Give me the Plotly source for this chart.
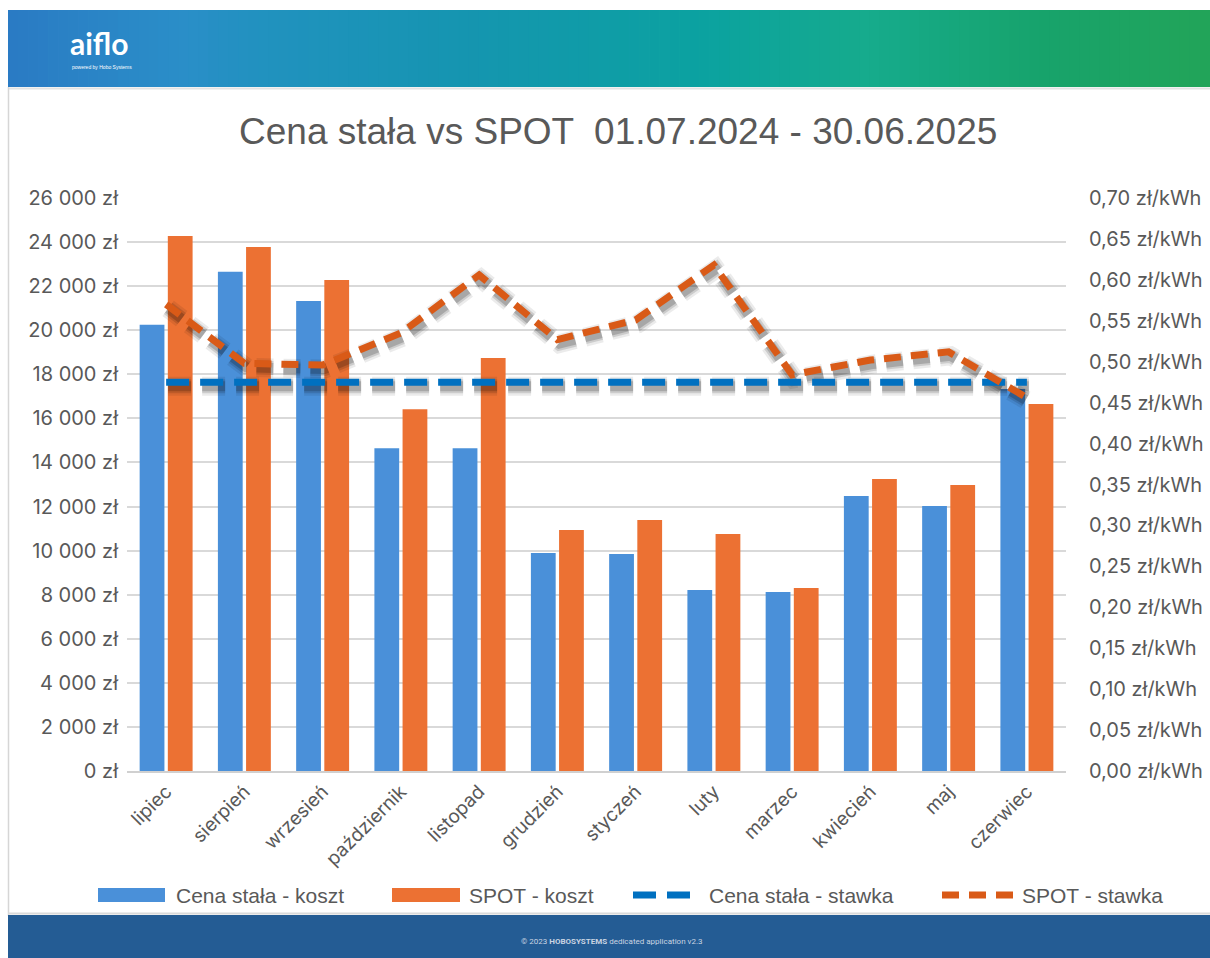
import plotly.graph_objects as go

# ---------------- data ----------------
months = ["lipiec", "sierpień", "wrzesień", "październik", "listopad", "grudzień",
          "styczeń", "luty", "marzec", "kwiecień", "maj", "czerwiec"]
fixed_cost = [20250, 22650, 21330, 14650, 14650, 9890, 9850, 8210, 8120, 12480, 12020, 17330]
spot_cost = [24280, 23780, 22280, 16420, 18740, 10930, 11390, 10750, 8300, 13250, 12980, 16650]
fixed_rate = [0.475] * 12
spot_rate = [0.570, 0.498, 0.496, 0.535, 0.606, 0.527, 0.551, 0.618, 0.484, 0.502, 0.512, 0.456]

title_text = "Cena stała vs SPOT  01.07.2024 - 30.06.2025"
legend_names = ["Cena stała - koszt", "SPOT - koszt", "Cena stała - stawka", "SPOT - stawka"]

# ---------------- layout constants ----------------
W, H = 1210, 958
ML, MR, MT, MB = 127, 144, 198, 187
PW, PH = W - ML - MR, H - MT - MB
FONT = "Liberation Sans, Arial, sans-serif"
TICKFONT = "Inter, Liberation Sans, Arial, sans-serif"
GREY = "#595959"
BLUE = "#4A90D9"
ORANGE = "#EC7133"
BLUE_LINE = "#0070C0"
ORANGE_LINE = "#D95A17"
Y2MAX = 0.70


def px_x(px):
    return (px - ML) / PW


def px_y(py):
    return (H - MB - py) / PH


x_idx = list(range(len(months)))

fig = go.Figure()

fig.add_trace(go.Bar(x=x_idx, y=fixed_cost, name=legend_names[0], marker_color=BLUE,
                     marker_line_width=0, showlegend=False))
fig.add_trace(go.Bar(x=x_idx, y=spot_cost, name=legend_names[1], marker_color=ORANGE,
                     marker_line_width=0, showlegend=False))

# shadows for lines (offset few px down/right)
dy = 4 * Y2MAX / PH
dx = 2 / (PW / len(months))
for rate, dash in ((fixed_rate, "23px,11px"), (spot_rate, "17px,10px")):
    for wdt, op in ((19, 0.08), (14, 0.13), (10, 0.18)):
        fig.add_trace(go.Scatter(
            x=[v + dx for v in x_idx], y=[r - dy for r in rate], yaxis="y2",
            mode="lines", line=dict(color=f"rgba(0,0,0,{op})", width=wdt, dash=dash),
            hoverinfo="skip", showlegend=False))

fig.add_trace(go.Scatter(x=x_idx, y=fixed_rate, yaxis="y2", name=legend_names[2],
                         mode="lines", line=dict(color=BLUE_LINE, width=7, dash="23px,11px"),
                         showlegend=False))
fig.add_trace(go.Scatter(x=x_idx, y=spot_rate, yaxis="y2", name=legend_names[3],
                         mode="lines", line=dict(color=ORANGE_LINE, width=7, dash="17px,10px"),
                         showlegend=False))

shapes = []
annotations = []

# header gradient
stops = [(0.0, (0x2A, 0x7B, 0xC4)), (0.14, (0x2A, 0x8E, 0xC8)), (0.22, (0x20, 0x92, 0xBE)),
         (0.38, (0x15, 0x95, 0xB0)), (0.58, (0x0B, 0xA2, 0xA0)), (0.72, (0x16, 0xAB, 0x8C)),
         (0.86, (0x17, 0xA3, 0x6C)), (1.0, (0x22, 0xA4, 0x59))]


def grad(t):
    for (t0, c0), (t1, c1) in zip(stops[:-1], stops[1:]):
        if t0 <= t <= t1:
            f = (t - t0) / (t1 - t0)
            return "rgb(%d,%d,%d)" % tuple(round(a + (b - a) * f) for a, b in zip(c0, c1))
    return "rgb(%d,%d,%d)" % stops[-1][1]


hx0, hx1, hy0, hy1 = 8, W, 10, 87
n = 120
for i in range(n):
    a = hx0 + (hx1 - hx0) * i / n
    b = hx0 + (hx1 - hx0) * (i + 1) / n + 0.8
    shapes.append(dict(type="rect", xref="paper", yref="paper",
                       x0=px_x(a), x1=px_x(b), y0=px_y(hy1), y1=px_y(hy0),
                       fillcolor=grad(i / (n - 1)), line_width=0, layer="below"))

# thin grey line below header, page border, footer
shapes.append(dict(type="line", xref="paper", yref="paper", x0=px_x(8), x1=px_x(W),
                   y0=px_y(88.5), y1=px_y(88.5), line=dict(color="#E3E3E3", width=2)))
shapes.append(dict(type="line", xref="paper", yref="paper", x0=px_x(8.5), x1=px_x(8.5),
                   y0=px_y(87), y1=px_y(916), line=dict(color="#D6D6D6", width=1.5)))
shapes.append(dict(type="line", xref="paper", yref="paper", x0=px_x(8), x1=px_x(W),
                   y0=px_y(913.5), y1=px_y(913.5), line=dict(color="#DADADA", width=2)))
shapes.append(dict(type="rect", xref="paper", yref="paper", x0=px_x(8), x1=px_x(W + 2),
                   y0=px_y(H + 2), y1=px_y(915), fillcolor="#245C94", line_width=0))

# logo
annotations.append(dict(text="<b>aiflo</b>", xref="paper", yref="paper", x=px_x(68), y=px_y(43),
                        xanchor="left", yanchor="middle", showarrow=False,
                        font=dict(family="Lato, " + FONT, size=30, color="white")))
annotations.append(dict(text="powered by Hobo Systems", xref="paper", yref="paper", x=px_x(70),
                        y=px_y(67), xanchor="left", yanchor="middle", showarrow=False,
                        font=dict(family=FONT, size=5, color="white")))

# footer text
annotations.append(dict(text="© 2023 <b>HOBOSYSTEMS</b> dedicated application v2.3",
                        xref="paper", yref="paper", x=px_x(612), y=px_y(941),
                        xanchor="center", yanchor="middle", showarrow=False,
                        font=dict(family="Roboto, " + FONT, size=8, color="#C9D4E2")))

# title
annotations.append(dict(text=title_text, xref="paper", yref="paper", x=px_x(618), y=px_y(131),
                        xanchor="center", yanchor="middle", showarrow=False,
                        font=dict(family=FONT, size=37, color=GREY)))

# custom legend
ly = 895
shapes.append(dict(type="rect", xref="paper", yref="paper", x0=px_x(98), x1=px_x(165),
                   y0=px_y(902), y1=px_y(888), fillcolor=BLUE, line_width=0))
shapes.append(dict(type="rect", xref="paper", yref="paper", x0=px_x(392), x1=px_x(460),
                   y0=px_y(902), y1=px_y(888), fillcolor=ORANGE, line_width=0))
shapes.append(dict(type="line", xref="paper", yref="paper", x0=px_x(633), x1=px_x(690),
                   y0=px_y(ly), y1=px_y(ly), line=dict(color=BLUE_LINE, width=7, dash="23px,11px")))
shapes.append(dict(type="line", xref="paper", yref="paper", x0=px_x(942), x1=px_x(1015),
                   y0=px_y(ly), y1=px_y(ly), line=dict(color=ORANGE_LINE, width=7, dash="17px,10px")))
for name, xp in zip(legend_names, (174, 467, 707, 1020)):
    annotations.append(dict(text=name, xref="paper", yref="paper", x=px_x(xp), y=px_y(ly),
                            xanchor="left", yanchor="middle", showarrow=False,
                            font=dict(family=FONT, size=21, color=GREY)))

fig.update_layout(
    width=W, height=H,
    margin=dict(l=ML, r=MR, t=MT, b=MB, pad=0, autoexpand=False),
    paper_bgcolor="white", plot_bgcolor="white",
    barmode="group", bargap=0.28, bargroupgap=0.12,
    separators=", ",
    font=dict(family=FONT, color=GREY, size=20),
    xaxis=dict(tickmode="array", tickvals=x_idx, ticktext=months, range=[-0.5, len(months) - 0.5],
               tickangle=-45, showgrid=False, showline=True, linecolor="#D0D0D0", linewidth=2,
               ticks="", tickfont=dict(family=TICKFONT, size=19, color=GREY), fixedrange=True,
               zeroline=False, automargin=False),
    yaxis=dict(range=[0, 26000], dtick=2000, tickformat=",.0f", ticksuffix=" zł",
               showgrid=True, gridcolor="#D9D9D9", gridwidth=1.5, zeroline=False,
               ticks="", ticklabelstandoff=8, tickfont=dict(family=TICKFONT, size=20, color=GREY),
               fixedrange=True, automargin=False),
    yaxis2=dict(range=[0, Y2MAX], dtick=0.05, tickformat=".2f", ticksuffix=" zł/kWh",
                overlaying="y", side="right", showgrid=False, zeroline=False,
                ticks="", ticklabelstandoff=22, tickfont=dict(family=TICKFONT, size=20, color=GREY),
                fixedrange=True, automargin=False),
    shapes=shapes, annotations=annotations,
    showlegend=False,
)

fig.write_html("out.html", config={"displayModeBar": False},
               post_script="document.body.style.margin='0';document.body.style.overflow='hidden';")
